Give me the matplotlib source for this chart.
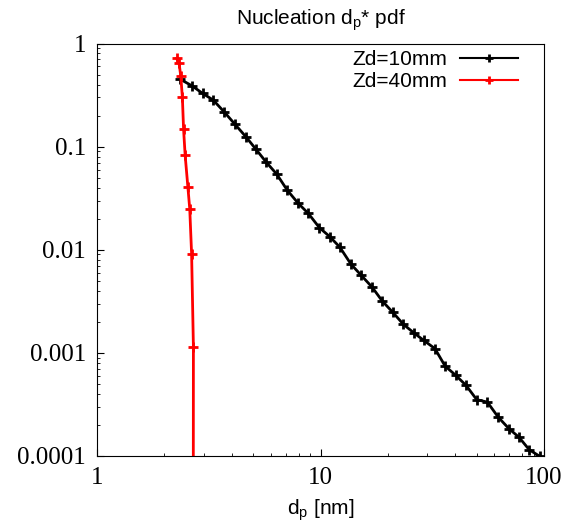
import numpy as np
import matplotlib.pyplot as plt

# Zd = 10 mm
dp_10 = [2.35, 2.67, 2.97, 3.31, 3.70, 4.14, 4.63, 5.15, 5.70, 6.37,
         7.10, 7.96, 8.82, 9.88, 11.0, 12.2, 13.7, 15.2, 17.0, 18.9,
         21.0, 23.5, 26.2, 29.0, 32.5, 36.1, 40.3, 44.8, 50.0, 55.8,
         62.4, 69.7, 77.3, 85.9, 96.0]
pdf_10 = [0.452, 0.387, 0.328, 0.283, 0.218, 0.165, 0.125, 0.0939, 0.0712, 0.0541,
          0.0378, 0.0281, 0.0225, 0.0164, 0.0134, 0.0106, 0.00723, 0.00566, 0.00435, 0.00318,
          0.00249, 0.00189, 0.00156, 0.00132, 0.00110, 0.000745, 0.000605, 0.000484, 0.000352, 0.000333,
          0.000238, 0.000184, 0.000152, 0.000115, 0.0000989]

# Zd = 40 mm
dp_40 = [2.27, 2.33, 2.37, 2.41, 2.44, 2.48, 2.55, 2.60, 2.65, 2.70, 2.69]
pdf_40 = [0.718, 0.642, 0.484, 0.300, 0.147, 0.0821, 0.0407, 0.0249, 0.00918, 0.00114, 1e-7]

xticks = [1, 10, 100]
xtick_labels = ['1', '10', '100']
yticks = [0.0001, 0.001, 0.01, 0.1, 1]
ytick_labels = ['0.0001', '0.001', '0.01', '0.1', '1']

plt.rcParams['font.family'] = ['Liberation Sans', 'DejaVu Sans']

fig = plt.figure(figsize=(5.68, 5.29), dpi=100)
ax = fig.add_axes([97 / 568, 1 - 456 / 529, 447 / 568, 412.5 / 529])

ax.plot(dp_10, pdf_10, color='black', lw=2, marker='+', ms=7, mew=2, label='Zd=10mm')
ax.plot(dp_40, pdf_40, color='red', lw=2, marker='+', ms=7, mew=2, label='Zd=40mm')

ax.set_xscale('log')
ax.set_yscale('log')
ax.set_xlim(1, 100)
ax.set_ylim(1e-4, 1)

ax.set_xticks(xticks)
ax.set_xticklabels(xtick_labels, family='Liberation Serif', fontsize=18)
ax.set_yticks(yticks)
ax.set_yticklabels(ytick_labels, family='Liberation Serif', fontsize=18)
ax.tick_params(which='both', direction='in', top=False, right=False)
ax.tick_params(which='major', length=5, pad=8)
ax.tick_params(which='minor', length=2.5)

ax.set_xlabel('d$_\\mathregular{p}$ [nm]', fontsize=15, labelpad=6)
ax.set_title('Nucleation d$_\\mathregular{p}$* pdf', fontsize=15, pad=14)

leg = ax.legend(loc='upper right', bbox_to_anchor=(0.942, 0.984), frameon=False,
                fontsize=15, markerfirst=False, numpoints=1, handlelength=2.8,
                handletextpad=0.6, labelspacing=0.15, borderpad=0, borderaxespad=0,
                markerscale=0.8)
for line in leg.get_lines():
    line.set_linewidth(1.5)

fig.savefig('out.png', dpi=100)
